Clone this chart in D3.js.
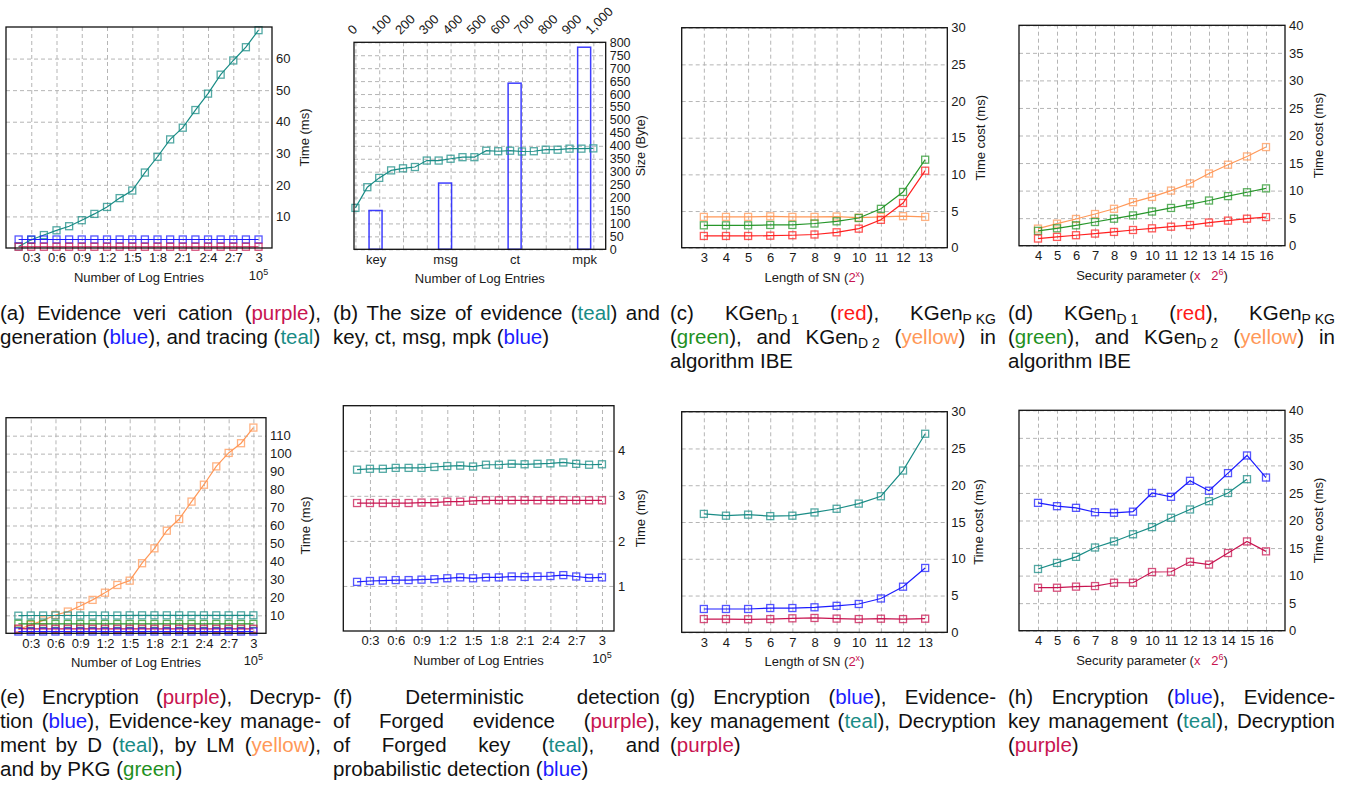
<!DOCTYPE html>
<html lang="en">
<head>
<meta charset="utf-8" />
<title>Evidence cost figures</title>
<script src="https://d3js.org/d3.v7.min.js"></script>
<style>
  body { margin: 0; background: #fff; }
  svg text { font-family: "Liberation Sans", Arial, sans-serif; }
</style>
</head>
<body>
<div id="container"></div>
<script>
var width = 1357, height = 785;

var teal = "#1a8c86", blue = "#1c1cff", purple = "#c81450", red = "#ff2020", green = "#26962a", yellow = "#ff9858";

// (a) verification / generation / tracing, x in 10^5 log entries
var logEntries = [0.15, 0.3, 0.45, 0.6, 0.75, 0.9, 1.05, 1.2, 1.35, 1.5, 1.65, 1.8, 1.95, 2.1, 2.25, 2.4, 2.55, 2.7, 2.85, 3.0];
var logTicks = [0.3, 0.6, 0.9, 1.2, 1.5, 1.8, 2.1, 2.4, 2.7, 3.0];
var logTickLabels = ["0:3", "0:6", "0:9", "1:2", "1:5", "1:8", "2:1", "2:4", "2:7", "3"];
var aTimeTicks = [10, 20, 30, 40, 50, 60];
var aTracing = [0.5, 2.6, 4.1, 5.6, 6.9, 8.8, 10.8, 13.0, 15.8, 18.2, 23.9, 28.9, 34.4, 38.1, 43.7, 48.9, 54.9, 59.4, 63.6, 69.0];
var aGeneration = [2.7, 2.7, 2.7, 2.7, 2.7, 2.7, 2.7, 2.7, 2.7, 2.7, 2.7, 2.7, 2.7, 2.7, 2.7, 2.7, 2.7, 2.7, 2.7, 2.7];
var aVerification = [0.4, 0.4, 0.4, 0.4, 0.4, 0.4, 0.4, 0.4, 0.4, 0.4, 0.4, 0.4, 0.4, 0.4, 0.4, 0.4, 0.4, 0.4, 0.4, 0.4];

// (b) evidence size and key/msg/ct/mpk sizes
var bEntries = [0, 50, 100, 150, 200, 250, 300, 350, 400, 450, 500, 550, 600, 650, 700, 750, 800, 850, 900, 950, 1000];
var bSize = [160, 240, 276, 305, 313, 318, 343, 343, 350, 356, 356, 381, 379, 381, 378, 379, 385, 385, 389, 389, 390];
var bTopTicks = [0, 100, 200, 300, 400, 500, 600, 700, 800, 900, 1000];
var bTopLabels = ["0", "100", "200", "300", "400", "500", "600", "700", "800", "900", "1,000"];
var bSizeTicks = [0, 50, 100, 150, 200, 250, 300, 350, 400, 450, 500, 550, 600, 650, 700, 750, 800];
var bItems = ["key", "msg", "ct", "mpk"];
var bItemSize = [150, 256, 642, 781];

// (c) and (g) against length of SN
var snLength = [3, 4, 5, 6, 7, 8, 9, 10, 11, 12, 13];
var costTicks30 = [0, 5, 10, 15, 20, 25, 30];
var cKGenD1 = [1.6, 1.6, 1.6, 1.64, 1.7, 1.8, 2.1, 2.6, 3.8, 6.1, 10.5];
var cKGenPKG = [3.05, 3.05, 3.05, 3.1, 3.1, 3.3, 3.6, 4.05, 5.3, 7.6, 12.0];
var cKGenD2 = [4.2, 4.2, 4.2, 4.27, 4.2, 4.2, 4.25, 4.1, 4.2, 4.3, 4.2];
var gEncryption = [3.17, 3.17, 3.17, 3.3, 3.3, 3.4, 3.6, 3.85, 4.6, 6.2, 8.75];
var gKeyMgmt = [16.1, 15.86, 16.0, 15.8, 15.86, 16.3, 16.8, 17.5, 18.5, 22.0, 27.0];
var gDecryption = [1.8, 1.8, 1.77, 1.8, 1.9, 1.95, 1.86, 1.8, 1.85, 1.8, 1.85];

// (d) and (h) against security parameter
var secParam = [4, 5, 6, 7, 8, 9, 10, 11, 12, 13, 14, 15, 16];
var costTicks40 = [0, 5, 10, 15, 20, 25, 30, 35, 40];
var dKGenD1 = [1.3, 1.6, 1.9, 2.2, 2.5, 2.85, 3.15, 3.45, 3.75, 4.2, 4.55, 4.9, 5.2];
var dKGenPKG = [2.7, 3.15, 3.7, 4.3, 4.9, 5.5, 6.2, 6.85, 7.5, 8.2, 9.0, 9.7, 10.4];
var dKGenD2 = [3.1, 4.0, 4.85, 5.75, 6.7, 7.9, 8.85, 10.0, 11.3, 13.1, 14.7, 16.2, 17.9];
var hEncryption = [23.2, 22.6, 22.3, 21.5, 21.4, 21.6, 25.0, 24.3, 27.2, 25.4, 28.6, 31.8, 27.8];
var hKeyMgmt = [11.2, 12.3, 13.4, 15.1, 16.2, 17.5, 18.8, 20.5, 22.0, 23.5, 25.0, 27.5, null];
var hDecryption = [7.8, 7.8, 8.0, 8.1, 8.7, 8.7, 10.65, 10.7, 12.5, 12.0, 14.1, 16.2, 14.4];

// (e) encryption, decryption, key management by D / LM / PKG
var eTimeTicks = [10, 20, 30, 40, 50, 60, 70, 80, 90, 100, 110];
var eKeyMgmtLM = [2.2, 4.6, 7.2, 10.2, 12.1, 15.2, 18.6, 22.6, 26.9, 29.3, 39.0, 47.3, 57.1, 63.6, 73.3, 82.7, 92.9, 100.4, 105.8, 114.5];
var eKeyMgmtD = [9.8, 9.9, 9.9, 9.9, 9.9, 9.9, 9.9, 9.9, 9.9, 10.0, 10.0, 10.0, 10.0, 10.0, 10.0, 10.0, 10.0, 10.0, 10.0, 10.0];
var eKeyMgmtPKG = [5.3, 5.2, 5.2, 5.2, 5.2, 5.2, 5.2, 5.2, 5.2, 5.2, 5.2, 5.2, 5.2, 5.2, 5.2, 5.2, 5.2, 5.2, 5.2, 5.2];
var eEncryption = [2.6, 2.5, 2.5, 2.5, 2.5, 2.5, 2.5, 2.5, 2.5, 2.5, 2.5, 2.5, 2.5, 2.5, 2.5, 2.5, 2.5, 2.5, 2.5, 2.5];
var eDecryption = [1.0, 1.0, 1.0, 1.0, 1.0, 1.0, 1.0, 1.0, 1.0, 1.0, 1.0, 1.0, 1.0, 1.0, 1.0, 1.0, 1.0, 1.0, 1.0, 1.0];

// (f) detection
var fTimeTicks = [1, 2, 3, 4];
var fForgedKey = [3.58, 3.6, 3.6, 3.62, 3.62, 3.62, 3.64, 3.66, 3.67, 3.65, 3.69, 3.69, 3.71, 3.7, 3.71, 3.72, 3.74, 3.71, 3.69, 3.7];
var fForgedEvidence = [2.84, 2.84, 2.84, 2.84, 2.84, 2.85, 2.85, 2.87, 2.87, 2.89, 2.9, 2.9, 2.9, 2.9, 2.9, 2.9, 2.9, 2.9, 2.9, 2.9];
var fProbabilistic = [1.09, 1.11, 1.12, 1.13, 1.13, 1.14, 1.15, 1.17, 1.19, 1.17, 1.19, 1.19, 1.21, 1.2, 1.21, 1.22, 1.24, 1.21, 1.18, 1.19];

// captions: {c|text} coloured, _{text} subscript
var capColors = { p: purple, b: blue, t: teal, r: "#ff1a1a", g: "#1f911f", y: yellow };
var capA = ["(a) Evidence veri cation ({p|purple}),", "generation ({b|blue}), and tracing ({t|teal})"];
var capB = ["(b) The size of evidence ({t|teal}) and", "key, ct, msg, mpk ({b|blue})"];
var capC = ["(c) KGen_{D 1} ({r|red}), KGen_{P KG}", "({g|green}), and KGen_{D 2} ({y|yellow}) in", "algorithm IBE"];
var capD = ["(d) KGen_{D 1} ({r|red}), KGen_{P KG}", "({g|green}), and KGen_{D 2} ({y|yellow}) in", "algorithm IBE"];
var capE = ["(e) Encryption ({p|purple}), Decryp-", "tion ({b|blue}), Evidence-key manage-", "ment by D ({t|teal}), by LM ({y|yellow}),", "and by PKG ({g|green})"];
var capF = ["(f) Deterministic detection", "of Forged evidence ({p|purple}),", "of Forged key ({t|teal}), and", "probabilistic detection ({b|blue})"];
var capG = ["(g) Encryption ({b|blue}), Evidence-", "key management ({t|teal}), Decryption", "({p|purple})"];
var capH = ["(h) Encryption ({b|blue}), Evidence-", "key management ({t|teal}), Decryption", "({p|purple})"];

var svg = d3.select("#container").append("svg")
  .attr("width", width)
  .attr("height", height);

function styleText(sel, size) {
  sel.selectAll("text")
    .attr("font-family", "Liberation Sans, Arial, sans-serif")
    .style("font-size", size + "px")
    .attr("fill", "#1a1a1a");
  sel.select(".domain").remove();
}

function drawPanel(p) {
  var g = svg.append("g");
  var x = d3.scaleLinear().domain(p.xDomain).range([p.left, p.right]);
  var y = d3.scaleLinear().domain(p.yDomain).range([p.bottom, p.top]);
  var w = p.right - p.left, h = p.bottom - p.top;

  // dashed grid
  if (p.xGrid) {
    g.append("g").attr("class", "grid")
      .attr("transform", "translate(0," + p.bottom + ")")
      .call(d3.axisBottom(x).tickValues(p.xGrid).tickSize(-h).tickFormat(""));
  }
  g.append("g").attr("class", "grid")
    .attr("transform", "translate(" + p.left + ",0)")
    .call(d3.axisLeft(y).tickValues(p.yTicks).tickSize(-w).tickFormat(""));
  g.selectAll(".grid .domain").remove();
  g.selectAll(".grid line")
    .attr("stroke", "#b5b5b5")
    .attr("stroke-dasharray", "4,3");

  // right axis
  var ya = g.append("g")
    .attr("transform", "translate(" + p.right + ",0)")
    .call(d3.axisRight(y).tickValues(p.yTicks).tickSize(0).tickPadding(4)
      .tickFormat(function (d) { return String(d); }));
  styleText(ya, p.yFont || 13);

  if (p.xTicks) {
    var xa = g.append("g")
      .attr("transform", "translate(0," + p.bottom + ")")
      .call(d3.axisBottom(x).tickValues(p.xTicks).tickSize(0).tickPadding(5)
        .tickFormat(function (d, i) { return p.xLabels ? p.xLabels[i] : d; }));
    styleText(xa, 13);
  }

  // titles
  g.append("text")
    .attr("transform", "translate(" + p.yTitleX + "," + (p.top + h / 2) + ") rotate(-90)")
    .attr("text-anchor", "middle")
    .attr("dy", "0.35em")
    .style("font-size", (p.yFont || 13) + "px")
    .attr("fill", "#1a1a1a")
    .text(p.yTitle);

  var xt = g.append("text")
    .attr("x", p.left + w / 2)
    .attr("y", p.bottom + 34)
    .attr("text-anchor", "middle")
    .style("font-size", "13px")
    .attr("fill", "#1a1a1a");
  if (p.xTitle === "sn") {
    xt.append("tspan").text("Length of SN (");
    xt.append("tspan").attr("fill", purple).text("2");
    xt.append("tspan").attr("fill", purple).style("font-size", "9px").attr("dy", -5).text("x");
    xt.append("tspan").attr("dy", 5).text(")");
  } else if (p.xTitle === "sec") {
    xt.append("tspan").text("Security parameter (");
    xt.append("tspan").attr("fill", purple).text("x\u00a0\u00a0 2");
    xt.append("tspan").attr("fill", purple).style("font-size", "9px").attr("dy", -5).text("6");
    xt.append("tspan").attr("dy", 5).text(")");
  } else {
    xt.text(p.xTitle);
  }

  if (p.exp) {
    var ex = g.append("text")
      .attr("x", x(3.0))
      .attr("y", p.bottom + 32)
      .attr("text-anchor", "middle")
      .style("font-size", "13px")
      .attr("fill", "#1a1a1a");
    ex.append("tspan").text("10");
    ex.append("tspan").style("font-size", "9px").attr("dy", -5).text("5");
  }

  return { g: g, x: x, y: y, p: p };
}

function drawFrame(panel) {
  var p = panel.p;
  panel.g.append("rect")
    .attr("x", p.left)
    .attr("y", p.top)
    .attr("width", p.right - p.left)
    .attr("height", p.bottom - p.top)
    .attr("fill", "none")
    .attr("stroke", "#111")
    .attr("stroke-width", 1.3);
}

function drawSeries(panel, xs, ys, color) {
  var pts = xs.map(function (d, i) { return [d, ys[i]]; })
    .filter(function (d) { return d[1] != null; });
  var line = d3.line()
    .x(function (d) { return panel.x(d[0]); })
    .y(function (d) { return panel.y(d[1]); });
  panel.g.append("path")
    .datum(pts)
    .attr("d", line)
    .attr("fill", "none")
    .attr("stroke", color)
    .attr("stroke-width", 1.2);
  panel.g.selectAll(null)
    .data(pts)
    .enter()
    .append("rect")
    .attr("x", function (d) { return panel.x(d[0]) - 3.5; })
    .attr("y", function (d) { return panel.y(d[1]) - 3.5; })
    .attr("width", 7)
    .attr("height", 7)
    .attr("fill", "none")
    .attr("stroke", color)
    .attr("stroke-opacity", 0.75)
    .attr("stroke-width", 1.3);
}

// (a)
var pa = drawPanel({ left: 6, right: 272, top: 27, bottom: 248, xDomain: [0, 3.16], yDomain: [0, 70],
  yTicks: aTimeTicks, xGrid: logTicks, xTicks: logTicks, xLabels: logTickLabels,
  yTitle: "Time (ms)", yTitleX: 304, xTitle: "Number of Log Entries", exp: true });
drawSeries(pa, logEntries, aTracing, teal);
drawSeries(pa, logEntries, aGeneration, blue);
drawSeries(pa, logEntries, aVerification, purple);
drawFrame(pa);

// (b)
var pb = drawPanel({ left: 354, right: 605.7, top: 42.3, bottom: 249.3, xDomain: [-6, 1052], yDomain: [0, 800],
  yTicks: bSizeTicks, xGrid: bTopTicks, yFont: 12.5,
  yTitle: "Size (Byte)", yTitleX: 641, xTitle: "Number of Log Entries" });
var ta = pb.g.append("g")
  .attr("transform", "translate(0," + pb.p.top + ")")
  .call(d3.axisTop(pb.x).tickValues(bTopTicks).tickSize(0)
    .tickFormat(function (d, i) { return bTopLabels[i]; }));
styleText(ta, 13);
ta.selectAll("text")
  .attr("x", 0).attr("y", 0).attr("dy", 0)
  .style("text-anchor", "start")
  .attr("transform", "translate(-3,-7) rotate(-45)");

var xBar = d3.scalePoint().domain(bItems).range([pb.p.left, pb.p.right]).padding(0.31);
pb.g.selectAll(null)
  .data(bItems)
  .enter()
  .append("rect")
  .attr("x", function (d) { return xBar(d) - 6.5; })
  .attr("y", function (d, i) { return pb.y(bItemSize[i]); })
  .attr("width", 13)
  .attr("height", function (d, i) { return pb.y(0) - pb.y(bItemSize[i]); })
  .attr("fill", "none")
  .attr("stroke", blue)
  .attr("stroke-opacity", 0.85)
  .attr("stroke-width", 1.5);
var ba = pb.g.append("g")
  .attr("transform", "translate(0," + pb.p.bottom + ")")
  .call(d3.axisBottom(xBar).tickSize(0).tickPadding(5));
styleText(ba, 13);
drawSeries(pb, bEntries, bSize, teal);
drawFrame(pb);

// (c)
var pc = drawPanel({ left: 681.7, right: 947.3, top: 27.7, bottom: 247.7, xDomain: [2, 14], yDomain: [0, 30],
  yTicks: costTicks30, xGrid: snLength, xTicks: snLength,
  yTitle: "Time cost (ms)", yTitleX: 980, xTitle: "sn" });
drawSeries(pc, snLength, cKGenD2, yellow);
drawSeries(pc, snLength, cKGenPKG, green);
drawSeries(pc, snLength, cKGenD1, red);
drawFrame(pc);

// (d)
var pd = drawPanel({ left: 1019, right: 1285, top: 25.3, bottom: 245.7, xDomain: [3, 17], yDomain: [0, 40],
  yTicks: costTicks40, xGrid: secParam, xTicks: secParam,
  yTitle: "Time cost (ms)", yTitleX: 1318, xTitle: "sec" });
drawSeries(pd, secParam, dKGenD2, yellow);
drawSeries(pd, secParam, dKGenPKG, green);
drawSeries(pd, secParam, dKGenD1, red);
drawFrame(pd);

// (e)
var pe = drawPanel({ left: 6, right: 266, top: 417.7, bottom: 633.3, xDomain: [0, 3.153], yDomain: [0, 120],
  yTicks: eTimeTicks, xGrid: logTicks, xTicks: logTicks, xLabels: logTickLabels,
  yTitle: "Time (ms)", yTitleX: 305, xTitle: "Number of Log Entries", exp: true });
drawSeries(pe, logEntries, eKeyMgmtLM, yellow);
drawSeries(pe, logEntries, eKeyMgmtD, teal);
drawSeries(pe, logEntries, eKeyMgmtPKG, green);
drawSeries(pe, logEntries, eEncryption, purple);
drawSeries(pe, logEntries, eDecryption, blue);
drawFrame(pe);

// (f)
var pf = drawPanel({ left: 343.3, right: 614, top: 405.7, bottom: 631, xDomain: [-0.01, 3.14], yDomain: [0, 5],
  yTicks: fTimeTicks, xGrid: logTicks, xTicks: logTicks, xLabels: logTickLabels,
  yTitle: "Time (ms)", yTitleX: 640, xTitle: "Number of Log Entries", exp: true });
drawSeries(pf, logEntries, fForgedKey, teal);
drawSeries(pf, logEntries, fForgedEvidence, purple);
drawSeries(pf, logEntries, fProbabilistic, blue);
drawFrame(pf);

// (g)
var pg = drawPanel({ left: 681.7, right: 947.3, top: 411.7, bottom: 632.3, xDomain: [2, 14], yDomain: [0, 30],
  yTicks: costTicks30, xGrid: snLength, xTicks: snLength,
  yTitle: "Time cost (ms)", yTitleX: 978, xTitle: "sn" });
drawSeries(pg, snLength, gKeyMgmt, teal);
drawSeries(pg, snLength, gEncryption, blue);
drawSeries(pg, snLength, gDecryption, purple);
drawFrame(pg);

// (h)
var ph = drawPanel({ left: 1019, right: 1285, top: 410.3, bottom: 630.7, xDomain: [3, 17], yDomain: [0, 40],
  yTicks: costTicks40, xGrid: secParam, xTicks: secParam,
  yTitle: "Time cost (ms)", yTitleX: 1318, xTitle: "sec" });
drawSeries(ph, secParam, hEncryption, blue);
drawSeries(ph, secParam, hKeyMgmt, teal);
drawSeries(ph, secParam, hDecryption, purple);
drawFrame(ph);

// captions, justified word by word
var capSize = 20.5, lineH = 24;

function parseLine(str) {
  var words = [[]];
  var re = /\{(\w)\|([^}]*)\}|_\{([^}]*)\}|([^{_]+)/g, m;
  while ((m = re.exec(str)) !== null) {
    if (m[1]) {
      words[words.length - 1].push({ t: m[2], c: capColors[m[1]] });
    } else if (m[3] !== undefined) {
      words[words.length - 1].push({ t: m[3].replace(/ /g, "\u00a0"), sub: true });
    } else {
      m[4].split(" ").forEach(function (part, i) {
        if (i > 0) words.push([]);
        if (part) words[words.length - 1].push({ t: part });
      });
    }
  }
  return words.filter(function (w) { return w.length; });
}

function drawCaption(x0, x1, y0, lines) {
  lines.forEach(function (line, li) {
    var words = parseLine(line);
    var y = y0 + li * lineH;
    var nodes = words.map(function (w) {
      var t = svg.append("text")
        .attr("y", y)
        .style("font-size", capSize + "px")
        .attr("fill", "#111");
      var down = false;
      w.forEach(function (s) {
        var ts = t.append("tspan").text(s.t);
        if (s.c) ts.attr("fill", s.c);
        if (s.sub) { ts.style("font-size", "14px").attr("dy", 4); down = true; }
        else if (down) { ts.attr("dy", -4); down = false; }
      });
      return t;
    });
    var widths = nodes.map(function (n) { return n.node().getComputedTextLength(); });
    var gap = capSize * 0.278;
    if (li < lines.length - 1 && words.length > 1) {
      gap = (x1 - x0 - d3.sum(widths)) / (words.length - 1);
    }
    var x = x0;
    nodes.forEach(function (n, i) {
      n.attr("x", x);
      x += widths[i] + gap;
    });
  });
}

drawCaption(0, 321, 320, capA);
drawCaption(333, 660, 320, capB);
drawCaption(670, 996, 320, capC);
drawCaption(1008, 1335, 320, capD);
drawCaption(0, 321, 704, capE);
drawCaption(333, 660, 704, capF);
drawCaption(670, 996, 704, capG);
drawCaption(1008, 1335, 704, capH);
</script>
</body>
</html>
